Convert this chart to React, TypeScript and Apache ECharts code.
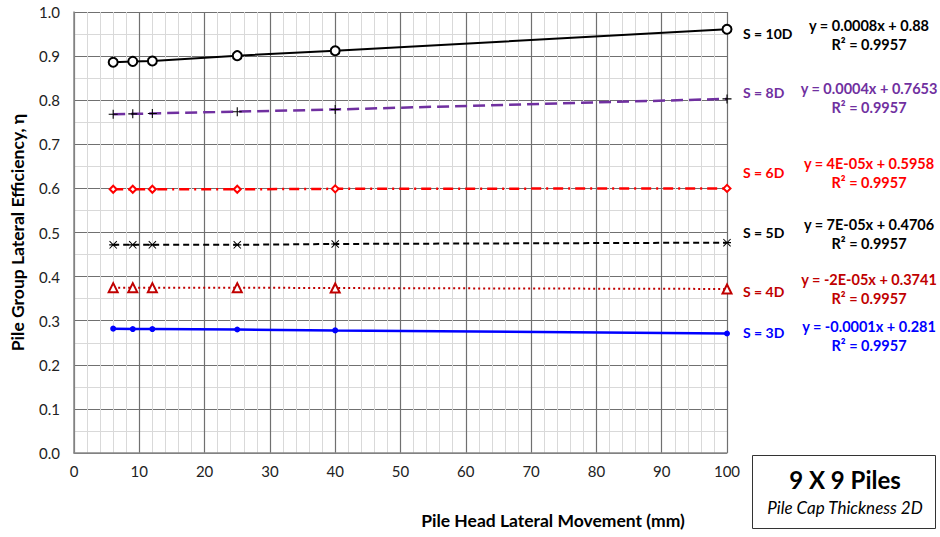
import React, { useEffect, useRef } from "react";
import * as echarts from "echarts";

const xValues = [6, 9, 12, 25, 40, 100];
const s10D = [0.886, 0.888, 0.889, 0.901, 0.912, 0.961];
const s8D = [0.768, 0.769, 0.770, 0.774, 0.779, 0.803];
const s6D = [0.598, 0.598, 0.598, 0.598, 0.599, 0.600];
const s5D = [0.472, 0.472, 0.472, 0.472, 0.474, 0.477];
const s4D = [0.375, 0.375, 0.375, 0.375, 0.374, 0.372];
const s3D = [0.282, 0.281, 0.281, 0.280, 0.278, 0.271];

const seriesNames = ["S = 10D", "S = 8D", "S = 6D", "S = 5D", "S = 4D", "S = 3D"];
const equations = [
  "y = 0.0008x + 0.88",
  "y = 0.0004x + 0.7653",
  "y = 4E-05x + 0.5958",
  "y = 7E-05x + 0.4706",
  "y = -2E-05x + 0.3741",
  "y = -0.0001x + 0.281",
];
const rSquared = ["R² = 0.9957", "R² = 0.9957", "R² = 0.9957", "R² = 0.9957", "R² = 0.9957", "R² = 0.9957"];
const xTicks = [0, 10, 20, 30, 40, 50, 60, 70, 80, 90, 100];

const FONT = "Lato, 'Open Sans', sans-serif";

const plusPath = "path://M4.4,0H5.6V4.4H10V5.6H5.6V10H4.4V5.6H0V4.4H4.4Z";
const asteriskPath =
  "path://M0.9,0L10,9.1L9.1,10L0,0.9Z M9.1,0L10,0.9L0.9,10L0,9.1Z M0,4.3H10V5.7H0Z";

export default function App() {
  const ref = useRef<HTMLDivElement>(null);
  useEffect(() => {
    if (!ref.current) return;
    const chart = echarts.init(ref.current, undefined, { renderer: "svg" });
    const mk = (vals: number[]) => xValues.map((x, i) => [x, vals[i]]);
    const labelColors = ["#000000", "#7030A0", "#FF0000", "#000000", "#C00000", "#0000FF"];
    const sLabelY = [33, 92, 172, 232, 291, 332];
    const eqY = [25, 88, 163, 224, 279, 326];
    const graphics: any[] = [];
    seriesNames.forEach((n, i) => {
      graphics.push({
        type: "text",
        x: 743,
        y: sLabelY[i],
        style: { text: n, fill: labelColors[i], font: `bold 14px ${FONT}`, verticalAlign: "middle" },
      });
      graphics.push({
        type: "text",
        x: 869,
        y: eqY[i],
        style: {
          text: equations[i],
          fill: labelColors[i],
          font: `bold 14.5px ${FONT}`,
          align: "center",
          verticalAlign: "middle",
        },
      });
      graphics.push({
        type: "text",
        x: 869,
        y: eqY[i] + 19,
        style: {
          text: rSquared[i],
          fill: labelColors[i],
          font: `bold 14.5px ${FONT}`,
          align: "center",
          verticalAlign: "middle",
        },
      });
    });
    graphics.push({
      type: "rect",
      shape: { x: 752.5, y: 455.5, width: 183, height: 73 },
      style: { fill: "#fff", stroke: "#333", lineWidth: 1 },
    });
    graphics.push({
      type: "text",
      x: 845,
      y: 479,
      style: { text: "9 X 9 Piles", font: `bold 24px ${FONT}`, fill: "#000", align: "center", verticalAlign: "middle" },
    });
    graphics.push({
      type: "text",
      x: 845,
      y: 507,
      style: { text: "Pile Cap Thickness 2D", font: `italic 17px ${FONT}`, fill: "#000", align: "center", verticalAlign: "middle" },
    });
    graphics.push({
      type: "text",
      x: 553,
      y: 520,
      style: {
        text: "Pile Head Lateral Movement (mm)",
        font: `bold 17.5px ${FONT}`,
        fill: "#000",
        align: "center",
        verticalAlign: "middle",
      },
    });

    chart.setOption({
      animation: false,
      backgroundColor: "#fff",
      grid: { left: 72, right: 213, top: 12, bottom: 84 },
      xAxis: {
        type: "value",
        min: 0,
        max: 100,
        interval: 10,
        axisLine: { show: true, lineStyle: { color: "#888", width: 1.5 } },
        axisTick: { show: false },
        axisLabel: {
          margin: 10,
          fontSize: 15,
          fontFamily: FONT,
          color: "#222",
          formatter: (v: number) => (xTicks.includes(v) ? String(v) : ""),
        },
        splitLine: { show: true, lineStyle: { color: "#707070", width: 1.2 } },
        minorTick: { show: false, splitNumber: 5 },
        minorSplitLine: { show: true, lineStyle: { color: "#d9d9d9", width: 1 } },
      },
      yAxis: {
        type: "value",
        min: 0,
        max: 1,
        interval: 0.1,
        name: "Pile Group Lateral Efficiency, η",
        nameLocation: "middle",
        nameGap: 48,
        nameTextStyle: { fontSize: 17.5, fontWeight: "bold", fontFamily: FONT, color: "#000" },
        axisLine: { show: true, lineStyle: { color: "#888", width: 1.5 } },
        axisTick: { show: false },
        axisLabel: {
          margin: 14,
          fontSize: 15,
          fontFamily: FONT,
          color: "#222",
          formatter: (v: number) => v.toFixed(1),
        },
        splitLine: { show: true, lineStyle: { color: "#707070", width: 1.2 } },
        minorTick: { show: false, splitNumber: 2 },
        minorSplitLine: { show: true, lineStyle: { color: "#d9d9d9", width: 1 } },
      },
      series: [
        {
          name: seriesNames[0],
          type: "line",
          data: mk(s10D),
          clip: false,
          symbol: "emptyCircle",
          symbolSize: 9,
          lineStyle: { color: "#000", width: 2 },
          itemStyle: { color: "#000", borderColor: "#000", borderWidth: 1.5 },
        },
        {
          name: seriesNames[1],
          type: "line",
          data: mk(s8D),
          clip: false,
          symbol: plusPath,
          symbolSize: 9,
          lineStyle: { color: "#7030A0", width: 2.5, type: [12, 6] },
          itemStyle: { color: "#000" },
        },
        {
          name: seriesNames[2],
          type: "line",
          data: mk(s6D),
          clip: false,
          symbol: "emptyDiamond",
          symbolSize: 7,
          lineStyle: { color: "#FF0000", width: 2.5, type: [10, 5, 2, 5] },
          itemStyle: { color: "#FF0000", borderColor: "#FF0000", borderWidth: 1.5 },
        },
        {
          name: seriesNames[3],
          type: "line",
          data: mk(s5D),
          clip: false,
          symbol: asteriskPath,
          symbolSize: 8,
          lineStyle: { color: "#000", width: 2, type: [6, 4] },
          itemStyle: { color: "#000" },
        },
        {
          name: seriesNames[4],
          type: "line",
          data: mk(s4D),
          clip: false,
          symbol: "emptyTriangle",
          symbolSize: 9,
          lineStyle: { color: "#C00000", width: 2, type: [2, 3] },
          itemStyle: { color: "#C00000", borderColor: "#C00000", borderWidth: 1.5 },
        },
        {
          name: seriesNames[5],
          type: "line",
          data: mk(s3D),
          clip: false,
          symbol: "circle",
          symbolSize: 6,
          lineStyle: { color: "#0000FF", width: 2.5 },
          itemStyle: { color: "#0000FF" },
        },
      ],
      graphic: graphics,
    });
    return () => chart.dispose();
  }, []);
  return <div ref={ref} style={{ position: "fixed", left: 0, top: 0, width: 940, height: 537 }} />;
}
